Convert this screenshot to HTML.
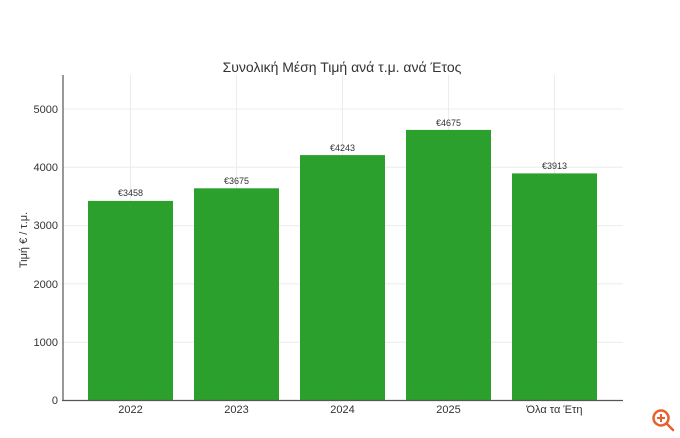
<!DOCTYPE html>
<html><head><meta charset="utf-8"><style>
body{margin:0;background:#fff;}
svg{display:block;font-family:"Liberation Sans","DejaVu Sans",sans-serif;}
</style></head><body>
<svg width="680" height="438" viewBox="0 0 680 438">
<rect width="680" height="438" fill="#fff"/>
<g stroke="#ececec" stroke-width="1">
<line x1="63" x2="623" y1="342.2" y2="342.2"/>
<line x1="63" x2="623" y1="283.9" y2="283.9"/>
<line x1="63" x2="623" y1="225.6" y2="225.6"/>
<line x1="63" x2="623" y1="167.3" y2="167.3"/>
<line x1="63" x2="623" y1="109" y2="109"/>
<line x1="130.5" x2="130.5" y1="75" y2="400"/>
<line x1="236.5" x2="236.5" y1="75" y2="400"/>
<line x1="342.5" x2="342.5" y1="75" y2="400"/>
<line x1="448.5" x2="448.5" y1="75" y2="400"/>
<line x1="554.5" x2="554.5" y1="75" y2="400"/>
</g>
<g fill="#2ca02c">
<rect x="88" y="200.9" width="85" height="199.6"/>
<rect x="194" y="188.3" width="85" height="212.2"/>
<rect x="300" y="155.1" width="85" height="245.4"/>
<rect x="406" y="129.9" width="85" height="270.6"/>
<rect x="512" y="173.4" width="85" height="227.1"/>
</g>
<g stroke="#3a9a3a" stroke-width="0.6" opacity="0.5">
<line x1="130.5" x2="130.5" y1="201" y2="400"/><line x1="236.5" x2="236.5" y1="189" y2="400"/>
<line x1="342.5" x2="342.5" y1="156" y2="400"/><line x1="448.5" x2="448.5" y1="130" y2="400"/>
<line x1="554.5" x2="554.5" y1="174" y2="400"/></g>
<line x1="63" x2="63" y1="75" y2="401" stroke="#555" stroke-width="1.2"/>
<line x1="62" x2="623" y1="400.5" y2="400.5" stroke="#555" stroke-width="1.2"/>
<g font-size="11" fill="#333" text-anchor="end">
<text x="58" y="404">0</text><text x="58" y="346">1000</text><text x="58" y="288">2000</text>
<text x="58" y="229">3000</text><text x="58" y="171">4000</text><text x="58" y="113">5000</text>
</g>
<g font-size="11" fill="#333" text-anchor="middle">
<text x="130.5" y="413">2022</text><text x="236.5" y="413">2023</text><text x="342.5" y="413">2024</text>
<text x="448.5" y="413">2025</text><text x="554.5" y="413">Όλα τα Έτη</text>
</g>
<g font-size="9" fill="#333" text-anchor="middle">
<text x="130.5" y="196">€3458</text><text x="236.5" y="184">€3675</text><text x="342.5" y="151">€4243</text>
<text x="448.5" y="126">€4675</text><text x="554.5" y="169">€3913</text>
</g>
<text x="342" y="72" font-size="14" fill="#333" text-anchor="middle">Συνολική Μέση Τιμή ανά τ.μ. ανά Έτος</text>
<text transform="translate(27,240) rotate(-90)" font-size="11" fill="#333" text-anchor="middle">Τιμή € / τ.μ.</text>
<g stroke="#e8602c" stroke-width="2.5" fill="none">
<circle cx="661" cy="418" r="7.5"/><line x1="666.5" y1="423.5" x2="673" y2="430" stroke-linecap="round"/>
<line x1="657" y1="418" x2="665" y2="418" stroke-width="2"/><line x1="661" y1="414" x2="661" y2="422" stroke-width="2"/>
</g>
</svg>
</body></html>
